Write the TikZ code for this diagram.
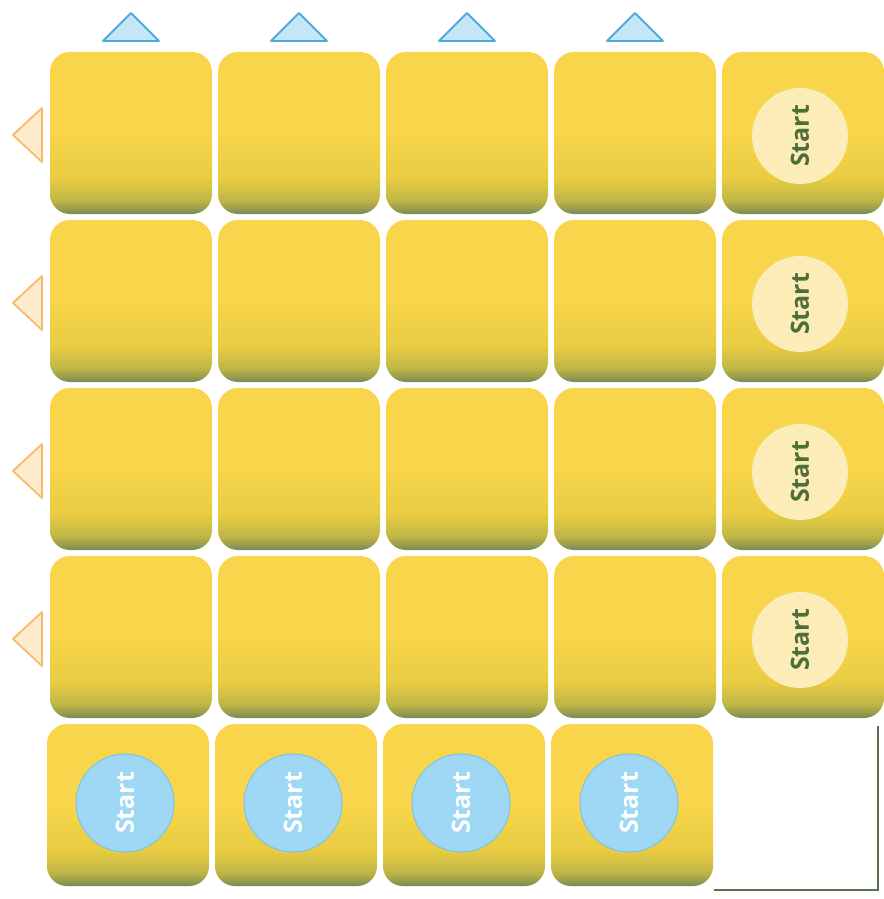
\documentclass[tikz,border=0pt]{standalone}
\usepackage{fontspec}
\setmainfont{Open Sans}
\definecolor{tileY}{RGB}{248,213,74}
\definecolor{tileY2}{RGB}{232,204,66}
\definecolor{tileO}{RGB}{190,180,70}
\definecolor{tileG}{RGB}{120,140,84}
\definecolor{triB}{RGB}{77,168,224}
\definecolor{triBf}{RGB}{196,230,247}
\definecolor{triO}{RGB}{249,185,106}
\definecolor{triOf}{RGB}{253,236,206}
\definecolor{cream}{RGB}{252,236,184}
\definecolor{startG}{RGB}{78,110,56}
\definecolor{circB}{RGB}{158,216,244}
\definecolor{circBd}{RGB}{120,196,234}
\definecolor{boxL}{RGB}{90,112,80}
\pgfdeclareverticalshading{tileshade}{100bp}{color(0bp)=(tileG); color(25bp)=(tileG); color(29bp)=(tileO); color(36bp)=(tileY2); color(50bp)=(tileY); color(100bp)=(tileY)}
\tikzset{
  tile/.style={minimum width=162pt, minimum height=162pt, rounded corners=20pt, shading=tileshade, inner sep=0pt},
  topmark/.style={draw=triB, fill=triBf, line width=1.8pt, line join=round},
  leftmark/.style={draw=triO, fill=triOf, line width=1.8pt, line join=round},
  startY/.style={circle, fill=cream, minimum size=96pt, inner sep=0pt},
  startB/.style={circle, fill=circB, draw=circBd, line width=1pt, minimum size=98pt, inner sep=0pt},
  starttxt/.style={rotate=90, font=\fontsize{25}{25}\selectfont\bfseries, inner sep=0pt},
  boxline/.style={draw=boxL, line width=2pt}
}
\begin{document}
\begin{tikzpicture}[x=1pt,y=-1pt]
\useasboundingbox (0,0) rectangle (883,899);
% tiles
\foreach \r in {1,...,5}{
  \foreach \c in {1,...,5}{
    \pgfmathsetmacro{\cx}{131+168*(\c-1)-(\r==5?3:0)}
    \pgfmathsetmacro{\cy}{133+168*(\r-1)}
    \ifnum\r=5 \ifnum\c=5 \else
      \node[tile] (t\r\c) at (\cx,\cy) {};
    \fi\else
      \node[tile] (t\r\c) at (\cx,\cy) {};
    \fi
  }
}
% top triangles
\foreach \c in {1,...,4}{
  \pgfmathsetmacro{\cx}{131+168*(\c-1)}
  \coordinate (ta\c) at (\cx,13);
  \coordinate (tl\c) at (\cx-28,41);
  \coordinate (tr\c) at (\cx+28,41);
  \draw[topmark] (ta\c) -- (tl\c) -- (tr\c) -- cycle;
}
% left triangles
\foreach \r in {1,...,4}{
  \pgfmathsetmacro{\cy}{135+168*(\r-1)}
  \coordinate (la\r) at (13,\cy);
  \coordinate (lt\r) at (42,\cy-27);
  \coordinate (lb\r) at (42,\cy+27);
  \draw[leftmark] (la\r) -- (lt\r) -- (lb\r) -- cycle;
}
% cream start circles (right column)
\foreach \r in {1,...,4}{
  \node[startY] (cy\r) at ([xshift=-3pt,yshift=-3pt]t\r5.center) {};
  \node[starttxt, text=startG] (sy\r) at (cy\r.center) {Start};
}
% blue start circles (bottom row)
\foreach \c in {1,...,4}{
  \node[startB] (cb\c) at ([xshift=-3pt,yshift=2pt]t5\c.center) {};
  \node[starttxt, text=white] (sb\c) at (cb\c.center) {Start};
}
% empty corner box
\coordinate (bx1) at (878,726);
\coordinate (bx2) at (878,890);
\coordinate (bx3) at (714,890);
\draw[boxline] (bx1) -- (bx2) -- (bx3);
\end{tikzpicture}
\end{document}
